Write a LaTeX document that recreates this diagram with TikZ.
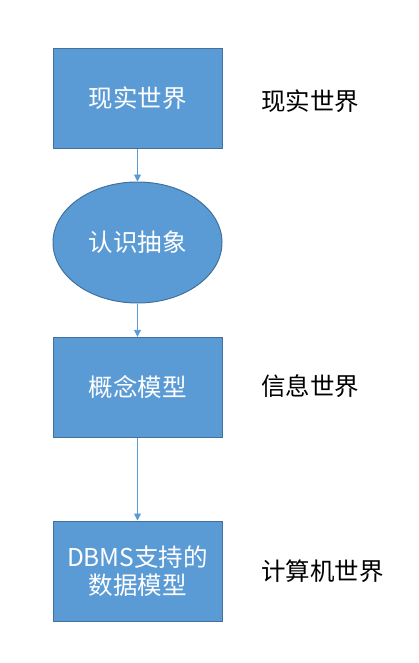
\documentclass[tikz,border=0pt]{standalone}
\usepackage{fontspec}
\setmainfont{Noto Sans CJK SC}
\usetikzlibrary{arrows.meta,shapes.geometric}
\definecolor{fillblue}{HTML}{5B9BD5}
\definecolor{edgeblue}{HTML}{41719C}
\begin{document}
\begin{tikzpicture}[x=1pt,y=-1pt,
  blockbox/.style={draw=edgeblue,line width=1pt,fill=fillblue,minimum width=169pt,minimum height=100pt,inner sep=0pt,text=white,font=\fontsize{24.5}{28.5}\selectfont,align=center},
  ovalbox/.style={draw=edgeblue,line width=1pt,fill=fillblue,ellipse,minimum width=169pt,minimum height=121pt,inner sep=0pt,text=white,font=\fontsize{24.5}{28.5}\selectfont},
  sidelabel/.style={anchor=west,inner sep=0pt,font=\fontsize{24.5}{28}\selectfont},
  link/.style={draw=fillblue,line width=0.9pt,-{Triangle[length=7pt,width=7pt]}}]
\useasboundingbox (0,0) rectangle (418,663);
\node[blockbox] (b1) at (137.5,98.3) {现实世界};
\node[ovalbox] (e1) at (137.5,242.5) {认识抽象};
\node[blockbox] (b2) at (137.5,387.3) {概念模型};
\node[blockbox] (b3) at (137.5,571) {DBMS支持的\\数据模型};
\node[sidelabel] (l1) at (261,101) {现实世界};
\node[sidelabel] (l2) at (261,386) {信息世界};
\node[sidelabel] (l3) at (261,571) {计算机世界};
\draw[link] (b1.south) -- (e1.north);
\draw[link] (e1.south) -- (b2.north);
\draw[link] (b2.south) -- (b3.north);
\end{tikzpicture}
\end{document}
